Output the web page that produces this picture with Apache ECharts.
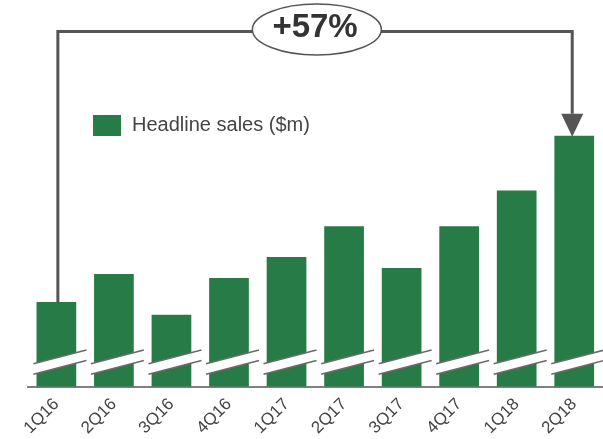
<!DOCTYPE html>
<html>
<head>
<meta charset="utf-8">
<script src="https://cdn.jsdelivr.net/npm/echarts@6/dist/echarts.min.js"></script>
<style>
  html, body { margin: 0; padding: 0; background: #fff; }
  #chart { width: 603px; height: 439px; }
</style>
</head>
<body>
<div id="chart"></div>
<script>
// Quarterly headline sales, $m (axis is broken: it starts at 200)
const categories = ['1Q16', '2Q16', '3Q16', '4Q16', '1Q17', '2Q17', '3Q17', '4Q17', '1Q18', '2Q18'];
const headlineSales = [281.7, 308.6, 269.2, 304.8, 325.0, 354.7, 314.4, 354.7, 389.3, 442.2];
const seriesName = 'Headline sales ($m)';
// Value at which the axis-break marks cross each bar
const breakValue = 222.6;

const FONT = 'Liberation Sans, Arial, Helvetica, sans-serif';
const GREEN = '#277b47';
const DARK = '#555555';

const chart = echarts.init(document.getElementById('chart'), null, { renderer: 'canvas' });

// Axis-break stripe: white slanted band with grey edges
function renderBreak(params, api) {
  const p = api.coord([api.value(0), api.value(1)]);
  const cx = p[0], cy = p[1];
  const L = cx - 23, R = cx + 30;
  const k = 0.26;
  const half = 5.2;
  const yAt = x => cy - k * (x - cx);
  return {
    type: 'group',
    children: [
      {
        type: 'polygon',
        shape: { points: [[L, yAt(L) - half], [R, yAt(R) - half], [R, yAt(R) + half], [L, yAt(L) + half]] },
        style: { fill: '#ffffff' }
      },
      {
        type: 'line',
        shape: { x1: L, y1: yAt(L) - half, x2: R, y2: yAt(R) - half },
        style: { stroke: '#6a6a6a', lineWidth: 1.6 }
      },
      {
        type: 'line',
        shape: { x1: L, y1: yAt(L) + half, x2: R, y2: yAt(R) + half },
        style: { stroke: '#6a6a6a', lineWidth: 1.6 }
      }
    ]
  };
}

chart.setOption({
  animation: false,
  backgroundColor: '#ffffff',
  textStyle: { fontFamily: FONT },
  grid: { left: 27.6, width: 577.2, top: 75.9, bottom: 51, containLabel: false },
  legend: {
    data: [seriesName],
    left: 93,
    top: 115,
    padding: 0,
    icon: 'rect',
    itemWidth: 28,
    itemHeight: 21,
    textStyle: { fontSize: 20, color: '#444444', fontFamily: FONT, padding: [0, 0, 0, 6] }
  },
  xAxis: {
    type: 'category',
    data: categories,
    axisLine: { lineStyle: { color: DARK, width: 1.5 } },
    axisTick: { show: false },
    axisLabel: { rotate: 45, margin: 15, fontSize: 17, color: '#444444', interval: 0, fontFamily: FONT }
  },
  yAxis: { type: 'value', min: 200, max: 500, show: false },
  series: [
    {
      name: seriesName,
      type: 'bar',
      data: headlineSales,
      barCategoryGap: '31%',
      itemStyle: { color: GREEN }
    },
    {
      name: 'break',
      type: 'custom',
      data: categories.map((c, i) => [i, breakValue]),
      renderItem: renderBreak,
      z: 5,
      silent: true
    }
  ]
});

// Growth arrow from the first quarter to the last one
const first = chart.convertToPixel({ seriesIndex: 0 }, [0, headlineSales[0]]);
const last = chart.convertToPixel({ seriesIndex: 0 }, [categories.length - 1, headlineSales[headlineSales.length - 1]]);
const growth = Math.round((headlineSales[headlineSales.length - 1] / headlineSales[0] - 1) * 100);
const topY = 31.5;
const x1 = first[0] + 1.5;
const x2 = last[0] - 2;
const headH = 22, headW = 22;
const midX = (x1 + x2) / 2;

chart.setOption({
  graphic: [
    {
      type: 'polyline',
      shape: { points: [[x1, first[1]], [x1, topY], [x2, topY], [x2, last[1] - headH]] },
      style: { stroke: DARK, lineWidth: 3, fill: null, lineJoin: 'miter' },
      z: 10
    },
    {
      type: 'polygon',
      shape: { points: [[x2 - headW / 2, last[1] - headH], [x2 + headW / 2, last[1] - headH], [x2, last[1] + 1]] },
      style: { fill: DARK },
      z: 10
    },
    {
      type: 'ellipse',
      shape: { cx: midX + 1.8, cy: 29.5, rx: 64.5, ry: 25.5 },
      style: { fill: '#ffffff', stroke: DARK, lineWidth: 1.5 },
      z: 11
    },
    {
      type: 'text',
      x: midX,
      y: 28,
      style: {
        text: '+' + growth + '%',
        align: 'center',
        verticalAlign: 'middle',
        font: 'bold 33px ' + FONT,
        fill: '#333333'
      },
      z: 12
    }
  ]
});
</script>
</body>
</html>
